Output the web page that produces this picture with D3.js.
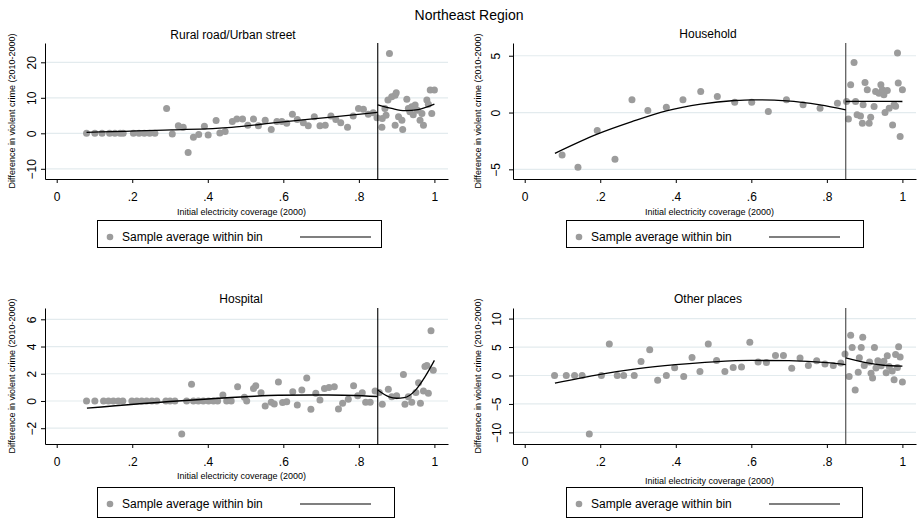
<!DOCTYPE html>
<html>
<head>
<meta charset="utf-8">
<script src="https://cdn.jsdelivr.net/npm/d3@7"></script>
<style>
  body { margin: 0; background: #fff; }
  svg { display: block; font-family: "Liberation Sans", Arial, sans-serif; }
</style>
</head>
<body>
<div id="chart"></div>
<script>
/* CONSTANTS AND GLOBALS */
const width = 917;
const height = 518;
const plotW = 403;
const plotH = 136;
const dotColor = '#9c9c9c';
const gridColor = '#e3ebee';

const mainTitle = 'Northeast Region';
const panelTitles = ['Rural road/Urban street', 'Household', 'Hospital', 'Other places'];
const yTitle = 'Difference in violent crime (2010-2000)';
const xTitle = 'Initial electricity coverage (2000)';
const legendLabel = 'Sample average within bin';
const cutoff = 0.85;

const xTicks = [0, 0.2, 0.4, 0.6, 0.8, 1];
const xTickLabels = ['0', '.2', '.4', '.6', '.8', '1'];
const roadTicks = [-10, 0, 10, 20];
const householdTicks = [-5, 0, 5];
const hospitalTicks = [-2, 0, 2, 4, 6];
const otherTicks = [-10, -5, 0, 5, 10];

/* DATA: bin averages [coverage, difference] */
const roadPts = [
  [.079, 0], [.101, 0], [.12, 0], [.14, 0], [.154, 0], [.168, 0], [.176, 0],
  [.203, 0], [.218, 0], [.232, 0], [.246, 0], [.26, 0],
  [.291, 7.0], [.306, -0.2], [.322, 2.1], [.335, 1.7], [.348, -5.4], [.362, -1.1],
  [.376, -0.3], [.391, 2.0], [.401, -0.5], [.422, 3.6], [.432, 0.1], [.446, 0.5],
  [.465, 3.3], [.477, 4.0], [.492, 4.0], [.506, 2.3], [.521, 4.0], [.534, 2.1],
  [.552, 3.7], [.568, 1.1], [.583, 3.3], [.596, 3.3], [.609, 2.8], [.624, 5.4],
  [.637, 3.9], [.653, 3.0], [.666, 2.1], [.682, 4.7], [.697, 2.1], [.711, 2.3],
  [.726, 4.9], [.739, 3.9], [.752, 3.0], [.77, 1.7], [.785, 4.9], [.799, 7.0],
  [.812, 6.8], [.825, 5.4], [.838, 5.8], [.848, 4.4],
  [.861, 1.7], [.862, 4.2], [.869, 7.0], [.872, 5.1], [.877, 9.4], [.881, 22.5],
  [.887, 10.3], [.896, 10.7], [.899, 11.4], [.896, 2.3], [.905, 4.7], [.914, 3.7],
  [.916, 1.1], [.927, 9.6], [.931, 7.0], [.935, 6.1], [.94, 7.5], [.944, 5.2],
  [.949, 8.0], [.955, 6.5], [.962, 3.7], [.967, 5.6], [.971, 2.3], [.98, 9.4],
  [.984, 8.2], [.989, 12.2], [.993, 5.6], [1.0, 12.2]
];
const roadFitLeft = [[.079, 0.28], [.304, 0.94], [.463, 1.7], [.587, 3.1], [.72, 4.5], [.85, 5.9]];
const roadFitRight = [[.85, 8.0], [.887, 7.0], [.922, 6.4], [.957, 6.7], [1.0, 8.2]];

const householdPts = [
  [.099, -3.74], [.141, -4.82], [.192, -1.59], [.239, -4.12], [.284, 1.12], [.326, 0.18],
  [.375, 0.47], [.419, 1.12], [.466, 1.85], [.51, 1.41], [.556, 0.91], [.601, 0.91],
  [.645, 0.09], [.693, 1.12], [.737, 0.68], [.782, 0.38], [.828, 0.82],
  [.852, 0.97], [.857, -0.56], [.863, 2.44], [.872, 4.41], [.876, 0.97], [.88, -0.2],
  [.889, -0.3], [.894, -0.94], [.896, 0.68], [.901, 2.65], [.907, 2.0], [.912, -0.94],
  [.916, -0.41], [.925, 0.53], [.929, 1.85], [.938, 1.7], [.943, 2.44], [.947, 2.0],
  [.951, 1.56], [.954, 0], [.96, 1.94], [.965, 0.38], [.974, -1.09], [.978, 0.68],
  [.982, 0.55], [.987, 5.24], [.989, 2.59], [.994, -2.12], [1.0, 2.0]
];
const householdFitLeft = [[.08, -3.59], [.192, -1.9], [.284, -0.8], [.375, 0.15], [.466, 0.74],
  [.556, 1.06], [.6, 1.12], [.693, 1.03], [.782, 0.68], [.85, 0.24]];
const householdFitRight = [[.85, 0.97], [.925, 0.99], [1.0, 0.97]];

const hospitalPts = [
  [.079, 0], [.101, 0], [.124, 0], [.137, 0], [.15, 0], [.163, 0], [.175, 0], [.199, 0],
  [.212, 0], [.225, 0], [.238, 0], [.252, 0], [.265, 0], [.289, 0], [.3, 0], [.313, 0],
  [.331, -2.42], [.344, 0], [.357, 1.23], [.362, 0], [.375, 0], [.388, 0], [.402, 0],
  [.415, 0], [.426, 0], [.44, 0.44], [.45, 0], [.462, 0], [.479, 1.04], [.497, 0.27],
  [.503, 0], [.521, 0.92], [.527, 1.11], [.541, 0.6], [.552, -0.36], [.568, -0.1],
  [.576, -0.22], [.587, 1.4], [.598, -0.12], [.609, -0.05], [.625, 0.68], [.637, -0.29],
  [.649, 0.8], [.662, 1.69], [.673, -0.6], [.686, 0.56], [.697, 0.07], [.709, 0.92],
  [.721, 0.99], [.735, 1.04], [.746, -0.58], [.757, -0.17], [.772, 0.12], [.786, 1.11],
  [.797, 0.39], [.809, 0.6], [.818, -0.1], [.83, -0.1], [.843, 0.73],
  [.854, 0.63], [.862, -0.24], [.878, 0.87], [.887, 0.31], [.9, 0.39], [.918, 1.94],
  [.922, -0.24], [.931, 0.31], [.94, -0.1], [.951, 0.63], [.958, 1.33], [.963, -0.17],
  [.971, 0.73], [.975, 2.54], [.98, 2.6], [.984, 0.56], [.991, 5.16], [.997, 2.25]
];
const hospitalFitLeft = [[.08, -0.53], [.32, 0.0], [.5, 0.31], [.587, 0.42], [.72, 0.44], [.85, 0.33]];
const hospitalFitRight = [[.85, 0.8], [.88, 0.3], [.9, 0.2], [.92, 0.24], [.95, 0.8], [.975, 1.77], [1.0, 2.98]];

const otherPts = [
  [.079, 0], [.11, 0], [.132, 0], [.152, 0], [.171, -10.3], [.203, 0], [.224, 5.53],
  [.245, 0], [.262, 0], [.29, 0], [.308, 2.47], [.331, 4.53], [.352, -0.82], [.375, 0],
  [.397, 1.35], [.421, -0.18], [.443, 3.18], [.464, 0.7], [.486, 5.53], [.508, 2.65],
  [.53, 0.7], [.552, 1.41], [.574, 1.47], [.596, 5.82], [.618, 2.35], [.64, 2.29],
  [.664, 3.53], [.685, 3.53], [.707, 1.29], [.729, 3.06], [.751, 1.76], [.773, 2.59],
  [.795, 2.0], [.817, 1.76], [.837, 2.18],
  [.848, 3.76], [.859, -0.18], [.863, 7.06], [.867, 4.94], [.875, -2.53], [.883, 0.59],
  [.886, 3.1], [.891, 4.94], [.895, 6.7], [.899, 1.76], [.913, 2.35], [.917, 0.4],
  [.921, -0.45], [.926, 4.94], [.93, 1.3], [.935, 2.59], [.944, 1.7], [.951, 2.5],
  [.957, 0.5], [.96, 3.45], [.965, 1.6], [.973, 0.8], [.978, -0.73], [.982, 3.7],
  [.987, 1.4], [.99, 5.06], [.994, 3.25], [1.0, -1.15]
];
const otherFitLeft = [[.08, -1.35], [.2, 0.2], [.3, 1.2], [.4, 1.9], [.5, 2.4], [.6, 2.65], [.7, 2.6], [.8, 2.25], [.85, 1.9]];
const otherFitRight = [[.85, 3.1], [.9, 2.3], [.95, 1.8], [1.0, 1.65]];

/* PANEL LAYOUT */
const panels = [
  { title: panelTitles[0], pts: roadPts, fitL: roadFitLeft, fitR: roadFitRight, yDom: [-12.87, 25.44], yTicks: roadTicks,
    left: 45, top: 43, titleX: 233, titleY: 35, labelGap: 9, yTitleGap: 30, xTitleDy: 33, cutColor: '#000',
    legend: { x: 97, y: 220, w: 284, h: 27 } },
  { title: panelTitles[1], pts: householdPts, fitL: householdFitLeft, fitR: householdFitRight, yDom: [-5.85, 6.12], yTicks: householdTicks,
    left: 513, top: 43, titleX: 708, titleY: 34, labelGap: 13, yTitleGap: 32, xTitleDy: 33, cutColor: '#444',
    legend: { x: 566, y: 220, w: 297, h: 27 } },
  { title: panelTitles[2], pts: hospitalPts, fitL: hospitalFitLeft, fitR: hospitalFitRight, yDom: [-3.16, 6.83], yTicks: hospitalTicks,
    left: 45, top: 308, titleX: 241, titleY: 299, labelGap: 9, yTitleGap: 30, xTitleDy: 32, cutColor: '#000',
    legend: { x: 97, y: 487, w: 297, h: 30 } },
  { title: panelTitles[3], pts: otherPts, fitL: otherFitLeft, fitR: otherFitRight, yDom: [-12.04, 11.86], yTicks: otherTicks,
    left: 513, top: 308, titleX: 708, titleY: 299, labelGap: 12, yTitleGap: 32, xTitleDy: 37, cutColor: '#444',
    legend: { x: 566, y: 487, w: 296, h: 30 } }
];

const svg = d3.select('#chart')
  .append('svg')
  .attr('width', width)
  .attr('height', height)
  .style('background-color', 'white');

svg.append('text')
  .attr('x', 469)
  .attr('y', 20)
  .attr('text-anchor', 'middle')
  .attr('font-size', 14)
  .text(mainTitle);

panels.forEach(p => {
  const g = svg.append('g');

  const x = d3.scaleLinear()
    .domain([-0.031, 1.036])
    .range([p.left, p.left + plotW]);

  const y = d3.scaleLinear()
    .domain(p.yDom)
    .range([p.top + plotH, p.top]);

  // gridlines
  g.append('g')
    .selectAll('line')
    .data(p.yTicks)
    .join('line')
    .attr('x1', p.left)
    .attr('x2', p.left + plotW)
    .attr('y1', d => y(d))
    .attr('y2', d => y(d))
    .attr('stroke', gridColor)
    .attr('stroke-width', 1.2);

  // subplot title
  g.append('text')
    .attr('x', p.titleX)
    .attr('y', p.titleY + 4)
    .attr('text-anchor', 'middle')
    .attr('font-size', 12)
    .text(p.title);

  // y axis
  const yAxis = g.append('g')
    .attr('transform', `translate(${p.left},0)`)
    .call(d3.axisLeft(y).tickValues(p.yTicks).tickSize(4).tickSizeOuter(0));
  yAxis.selectAll('text')
    .attr('transform', 'rotate(-90)')
    .attr('x', 0)
    .attr('y', -p.labelGap)
    .attr('dy', 0)
    .attr('text-anchor', 'middle')
    .attr('font-size', 12)
    .attr('font-family', '"Liberation Sans", Arial, sans-serif')
    .attr('fill', '#000');

  // x axis
  const xAxis = g.append('g')
    .attr('transform', `translate(0,${p.top + plotH})`)
    .call(d3.axisBottom(x).tickValues(xTicks).tickSize(4).tickSizeOuter(0)
      .tickFormat((d, i) => xTickLabels[i]));
  xAxis.selectAll('text')
    .attr('y', 13)
    .attr('font-size', 12)
    .attr('font-family', '"Liberation Sans", Arial, sans-serif')
    .attr('fill', '#000');

  [yAxis, xAxis].forEach(a => {
    a.select('.domain').attr('stroke', '#000');
    a.selectAll('.tick line').attr('stroke', '#000');
  });

  // axis titles
  g.append('text')
    .attr('transform', `translate(${p.left - p.yTitleGap},${p.top + plotH / 2}) rotate(-90)`)
    .attr('text-anchor', 'middle')
    .attr('font-size', 9)
    .text(yTitle);

  g.append('text')
    .attr('x', p.left + plotW / 2 - 5)
    .attr('y', p.top + plotH + p.xTitleDy + 3)
    .attr('text-anchor', 'middle')
    .attr('font-size', 9)
    .text(xTitle);

  // bin averages
  g.append('g')
    .attr('fill', dotColor)
    .selectAll('circle')
    .data(p.pts)
    .join('circle')
    .attr('cx', d => x(d[0]))
    .attr('cy', d => y(d[1]))
    .attr('r', 3.5);

  // cutoff line
  g.append('line')
    .attr('x1', x(cutoff))
    .attr('x2', x(cutoff))
    .attr('y1', p.top)
    .attr('y2', p.top + plotH)
    .attr('stroke', p.cutColor)
    .attr('stroke-width', 1.1);

  // fitted polynomials either side of the cutoff
  const line = d3.line()
    .x(d => x(d[0]))
    .y(d => y(d[1]))
    .curve(d3.curveMonotoneX);

  [p.fitL, p.fitR].forEach(f => {
    g.append('path')
      .attr('d', line(f))
      .attr('fill', 'none')
      .attr('stroke', '#000')
      .attr('stroke-width', 1.3);
  });

  // legend
  const L = p.legend;
  const lg = g.append('g').attr('transform', `translate(${L.x},${L.y})`);
  lg.append('rect')
    .attr('x', 0.5).attr('y', 0.5)
    .attr('width', L.w).attr('height', L.h)
    .attr('fill', 'white')
    .attr('stroke', '#000');
  lg.append('circle')
    .attr('cx', 13).attr('cy', 17)
    .attr('r', 3.3)
    .attr('fill', dotColor);
  lg.append('text')
    .attr('x', 25).attr('y', 21)
    .attr('font-size', 12)
    .text(legendLabel);
  lg.append('line')
    .attr('x1', 203).attr('x2', 274)
    .attr('y1', 17).attr('y2', 17)
    .attr('stroke', '#000')
    .attr('stroke-width', 1.2);
});
</script>
</body>
</html>
